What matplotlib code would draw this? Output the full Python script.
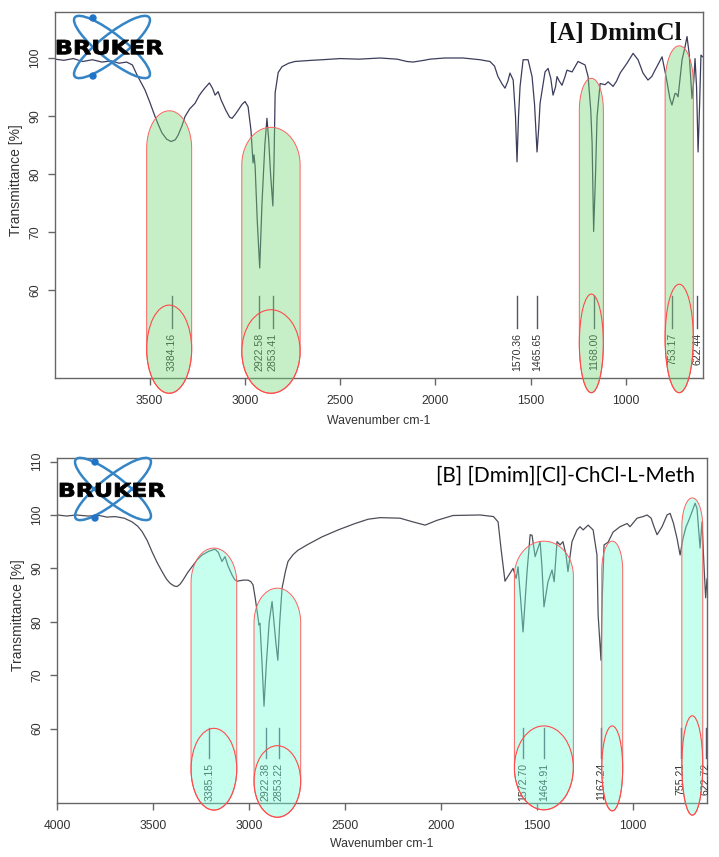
import numpy as np
import matplotlib.pyplot as plt
from matplotlib.patches import Polygon, Ellipse, PathPatch, Circle
from matplotlib.textpath import TextPath
from matplotlib.font_manager import FontProperties
from matplotlib.transforms import IdentityTransform, Affine2D

plt.rcParams['font.family'] = ['Liberation Sans', 'DejaVu Sans']

# spectrum A : DmimCl
wn_a = [3995, 3950, 3900, 3850, 3800, 3750, 3700, 3660, 3620, 3590, 3566, 3540, 3524, 3500,
        3471, 3450, 3435, 3410, 3387, 3365, 3350, 3330, 3314, 3290, 3261, 3240, 3225, 3205,
        3186, 3170, 3156, 3140, 3125, 3100, 3080, 3067, 3050, 3035, 3015, 2999, 2983, 2968,
        2957, 2952, 2946, 2935, 2922, 2910, 2895, 2884, 2875, 2865, 2853, 2847, 2841, 2825,
        2805, 2770, 2737, 2650, 2595, 2500, 2400, 2291, 2201, 2150, 2118, 2060, 2028, 1950,
        1855, 1766, 1714, 1690, 1672, 1650, 1635, 1620, 1609, 1592, 1580, 1572, 1564, 1556,
        1540, 1514, 1493, 1480, 1467, 1458, 1451, 1425, 1409, 1395, 1383, 1370, 1362, 1350,
        1336, 1320, 1310, 1283, 1252, 1215, 1199, 1185, 1178, 1170, 1160, 1152, 1136, 1110,
        1094, 1068, 1050, 1031, 995, 963, 937, 911, 885, 865, 848, 811, 790, 770, 759, 743,
        735, 727, 706, 690, 680, 669, 654, 645, 638, 630, 622, 614, 607, 598]
t_a = [99.8, 99.6, 99.9, 99.4, 99.7, 99.3, 99.5, 99.1, 99.3, 98.8, 97.1, 95.5, 94.5, 92.5,
       89.9, 88.2, 87.1, 86.0, 85.6, 85.9, 86.7, 88.3, 89.9, 91.2, 92.2, 93.5, 94.2, 95.0,
       95.7, 94.8, 93.6, 94.2, 92.8, 91.0, 89.8, 89.6, 90.3, 91.0, 92.0, 92.5, 91.6, 87.6,
       81.9, 83.3, 81.3, 72.0, 63.8, 75.0, 85.0, 89.6, 86.0, 80.0, 74.5, 82.0, 94.0, 97.5,
       98.5, 99.1, 99.4, 99.6, 99.7, 99.9, 99.8, 100.0, 99.8, 99.4, 99.3, 99.6, 99.8, 100.0,
       100.0, 99.7, 99.4, 98.6, 96.8, 95.5, 94.8, 96.0, 97.4, 96.2, 90.0, 82.1, 90.0, 95.1,
       99.7, 99.7, 96.8, 92.0, 83.8, 88.0, 92.2, 97.6, 98.2, 96.5, 93.6, 95.0, 96.8, 96.0,
       95.3, 96.8, 97.9, 97.6, 99.4, 98.8, 96.8, 91.0, 85.3, 70.1, 80.0, 89.9, 95.6, 95.4,
       95.9, 95.1, 96.0, 97.4, 99.1, 100.8, 99.7, 97.4, 96.2, 96.8, 97.9, 100.2, 96.8, 93.0,
       91.9, 93.9, 93.8, 93.3, 99.7, 102.0, 103.7, 100.8, 93.0, 96.0, 99.9, 95.0, 83.8, 92.0,
       100.5, 100.2]

# spectrum B : [Dmim][Cl]-ChCl-L-Meth
wn_b = [4000, 3950, 3900, 3839, 3780, 3740, 3698, 3650, 3609, 3580, 3557, 3530, 3505, 3480,
        3453, 3430, 3411, 3390, 3375, 3360, 3344, 3320, 3297, 3270, 3245, 3210, 3177, 3160,
        3141, 3125, 3110, 3089, 3075, 3063, 3030, 3005, 2990, 2979, 2968, 2958, 2948, 2943,
        2932, 2922, 2910, 2895, 2880, 2870, 2860, 2850, 2840, 2828, 2810, 2797, 2770, 2745,
        2693, 2620, 2536, 2448, 2380, 2318, 2214, 2146, 2083, 2021, 1938, 1797, 1727, 1703,
        1688, 1667, 1641, 1625, 1609, 1599, 1585, 1573, 1562, 1552, 1536, 1526, 1510, 1484,
        1474, 1464, 1452, 1443, 1422, 1411, 1396, 1380, 1365, 1349, 1339, 1318, 1292, 1276,
        1260, 1234, 1208, 1188, 1182, 1167, 1160, 1151, 1130, 1104, 1068, 1031, 1016, 979,
        948, 927, 906, 891, 875, 849, 823, 807, 790, 771, 755, 740, 724, 713, 693, 677, 667,
        651, 641, 630, 622, 615]
t_b = [100.0, 99.8, 100.0, 99.8, 99.9, 99.6, 99.7, 99.4, 98.7, 97.9, 96.9, 95.2, 93.1, 91.2,
       89.4, 88.0, 87.2, 86.7, 86.6, 87.0, 87.8, 89.2, 90.3, 91.6, 92.5, 93.2, 93.6, 93.0,
       91.3, 92.2, 90.5, 88.8, 87.9, 87.6, 87.8, 87.8, 87.5, 86.9, 84.5, 81.9, 79.4, 79.7,
       72.0, 64.2, 72.0, 80.0, 83.8, 80.0, 76.0, 72.8, 80.0, 86.3, 89.5, 91.3, 92.6, 93.4,
       94.5, 95.9, 97.2, 98.4, 99.2, 99.5, 99.4, 98.7, 98.1, 99.0, 99.9, 100.0, 99.7, 98.7,
       93.8, 87.6, 89.1, 90.0, 88.1, 90.3, 84.0, 78.1, 84.0, 89.4, 96.3, 96.2, 92.2, 95.0,
       90.0, 82.8, 85.5, 87.5, 89.7, 87.5, 95.0, 94.4, 95.0, 92.5, 89.4, 95.0, 97.2, 97.8,
       97.2, 98.1, 97.2, 92.5, 81.3, 72.8, 85.0, 94.4, 94.9, 96.8, 97.8, 98.4, 97.8, 99.4,
       99.7, 100.0, 99.4, 97.8, 96.3, 97.8, 100.0, 100.3, 98.5, 95.6, 92.5, 95.6, 97.8, 98.7,
       100.6, 102.2, 101.2, 93.8, 98.7, 90.0, 84.5, 88.0]

# picked peaks (labels, and where the marker sits on the axis)
peaks_a = [3384.16, 2922.58, 2853.41, 1570.36, 1465.65, 1168.00, 753.17, 622.44]
marks_a = [3384, 2924, 2853, 1570, 1466, 1168, 757, 626]
peaks_b = [3385.15, 2922.38, 2853.22, 1572.70, 1464.91, 1167.24, 755.21, 622.72]
marks_b = [3208, 2913, 2845, 1571, 1462, 1168, 752, 621]

H = 857


def column(ax, left, right, apex, ell_c, ell_h, fc, cap=6.5):
    # tall rounded highlight with a red ellipse at its foot
    c = (left + right) / 2
    a = (right - left) / 2
    th = np.linspace(0, np.pi, 60)
    top_x = c + a * np.cos(th)
    top_y = apex - cap + cap * np.sin(th)
    th2 = np.linspace(np.pi, 2 * np.pi, 60)
    bot_x = c + a * np.cos(th2)
    bot_y = ell_c + ell_h * np.sin(th2)
    pts = np.column_stack([np.r_[top_x, bot_x], np.r_[top_y, bot_y]])
    ax.add_patch(Polygon(pts, closed=True, fc=fc, ec='none', alpha=0.4, zorder=5, clip_on=False))
    ax.add_patch(Polygon(pts, closed=True, fill=False, ec='#ff6060', lw=0.7, zorder=6, clip_on=False))
    ax.add_patch(Ellipse((c, ell_c), abs(right - left), 2 * ell_h, fill=False, ec='#ff4a4a',
                         lw=0.8, zorder=6, clip_on=False))


def logo(fig, cx, cy, box, dots):
    # orbits
    for ang in (38.5, -38.5):
        fig.add_artist(Ellipse((cx, H - cy), 95, 25, angle=ang, fill=False, ec='#3585c6',
                               lw=1.8, transform=IdentityTransform(), zorder=10))
    for dx, dy in dots:
        fig.add_artist(Circle((dx, H - dy), 3.0, color='#1f74c8', transform=IdentityTransform(),
                              zorder=11))
    x0, y0, x1, y1 = box
    tp = TextPath((0, 0), "BRUKER", size=1, prop=FontProperties(family='DejaVu Sans', weight='bold'))
    ext = tp.get_extents()
    tr = Affine2D().translate(-ext.x0, -ext.y0).scale((x1 - x0) / ext.width, (y1 - y0) / ext.height)
    tr = tr.translate(x0, H - y1)
    fig.add_artist(PathPatch(tr.transform_path(tp), fc='black', ec='black', lw=0.6,
                             transform=IdentityTransform(), zorder=12))


def style(ax, xlim, ylim, xt, yt, ylab_y):
    ax.set_xlim(*xlim)
    ax.set_ylim(*ylim)
    ax.set_xticks(xt)
    ax.set_yticks(yt)
    for s in ax.spines.values():
        s.set_color('#666666')
        s.set_linewidth(1.0)
    ax.tick_params(axis='both', colors='#666666', labelcolor='#333333', length=5, width=1,
                   labelsize=8.7)
    ax.tick_params(axis='x', pad=7)
    ax.tick_params(axis='y', pad=5, labelrotation=90)
    for l in ax.get_yticklabels():
        l.set_va('center')
    ax.set_xlabel("Wavenumber cm-1", fontsize=8.8, color='#333333')
    ax.xaxis.set_label_coords(0.5, -0.10)
    ax.set_ylabel("Transmittance [%]", fontsize=10, color='#333333')
    ax.yaxis.set_label_coords(-0.06, ylab_y)
    ax.yaxis.label.set_verticalalignment('center')


def peaks(ax, pk, xs, y_top, y_bot, y_txt):
    for p, x in zip(pk, xs):
        ax.plot([x, x], [y_top, y_bot], color='#55556a', lw=1.0, zorder=3)
        ax.text(x, y_txt, f"{p:.2f}", rotation=90, ha='center', va='top', fontsize=7.6,
                color='#333333', zorder=3)


fig = plt.figure(figsize=(7.19, 8.57), dpi=100)
ax1 = fig.add_axes([0.0765, 0.5589, 0.9013, 0.4271])
ax2 = fig.add_axes([0.0793, 0.0630, 0.9040, 0.4026])

# ---- panel A
ax1.plot(wn_a, t_a, color='#3c3d5c', lw=0.9, zorder=2)
style(ax1, (3996, 596), (44.83, 107.93), [3500, 3000, 2500, 2000, 1500, 1000],
      [60, 70, 80, 90, 100], 0.541)
peaks(ax1, peaks_a, marks_a, 59.0, 53.4, 52.6)
green = (0.46, 0.85, 0.46)
column(ax1, 3515, 3279, 90.9, 49.8, 7.6, green)
column(ax1, 3016, 2710, 88.05, 49.4, 7.2, green)
column(ax1, 1245, 1119, 96.5, 50.8, 8.5, green, cap=5.5)
column(ax1, 795, 647, 102.1, 51.65, 9.35, green)
ax1.text(0.9676, 0.9235, "[A] DmimCl", transform=ax1.transAxes, ha='right', va='baseline',
         fontsize=18, fontweight='bold', family='Liberation Serif', color='#111111', zorder=8)

# ---- panel B
ax2.plot(wn_b, t_b, color='#4d4d58', lw=0.9, zorder=2)
style(ax2, (4000, 615), (46.07, 110.67), [4000, 3500, 3000, 2500, 2000, 1500, 1000],
      [60, 70, 80, 90, 100, 110], 0.545)
peaks(ax2, peaks_b, marks_b, 60.1, 54.5, 53.6)
cyan = (0.46, 1.0, 0.85)
column(ax2, 3302, 3064, 93.8, 52.4, 7.65, cyan)
column(ax2, 2974, 2731, 86.3, 50.1, 6.7, cyan)
column(ax2, 1618, 1311, 95.1, 52.65, 7.85, cyan)
column(ax2, 1163, 1054, 95.1, 52.55, 7.95, cyan, cap=5.5)
column(ax2, 746, 637, 103.2, 53.1, 9.3, cyan, cap=5.5)
ax2.text(0.9815, 0.930, "[B] [Dmim][Cl]-ChCl-L-Meth", transform=ax2.transAxes, ha='right',
         va='baseline', fontsize=15, family='Lato', color='#000000', zorder=8)

logo(fig, 112, 47, (57, 40, 163, 54.5), [(93, 18), (93, 76)])
logo(fig, 113, 489, (60, 483, 165, 497), [(95, 462), (95, 518)])

fig.savefig("out.png", dpi=100)
